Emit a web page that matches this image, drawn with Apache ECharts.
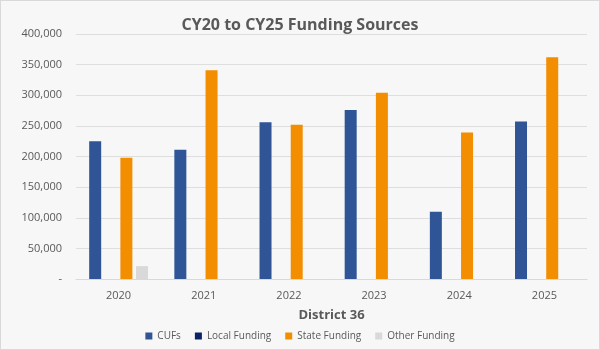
<!DOCTYPE html>
<html><head><meta charset="utf-8">
<script src="https://cdn.jsdelivr.net/npm/echarts@6/dist/echarts.min.js"></script>
<style>
html,body{margin:0;padding:0;background:#fff;}
#c{width:598px;height:348px;border:1px solid #d9d9d9;background:#f7f7f7;}
</style></head><body>
<div id="c"></div>
<script>
var categories = ['2020','2021','2022','2023','2024','2025'];
var cufs = [225000, 211000, 256000, 276000, 110000, 257000];
var localFunding = [0, 0, 0, 0, 0, 0];
var stateFunding = [198000, 341000, 252000, 304000, 239000, 362000];
var otherFunding = [21000, 0, 0, 0, 0, 0];
var seriesNames = ['CUFs','Local Funding','State Funding','Other Funding'];
var colors = ['#2F5597','#0B2466','#F28E00','#D9D9D9'];
var font = '"Open Sans", "Noto Sans", sans-serif';
var chart = echarts.init(document.getElementById('c'));
var data = [cufs, localFunding, stateFunding, otherFunding];
chart.setOption({
  animation:false,
  backgroundColor:'#f7f7f7',
  title:{text:'CY20 to CY25 Funding Sources',left:'center',top:11,
    textStyle:{fontFamily:font,fontSize:16,fontWeight:'bold',color:'#595959'}},
  legend:{bottom:3,left:'center',itemWidth:7,itemHeight:7,itemGap:14,icon:'rect',
    textStyle:{fontFamily:font,fontSize:10,color:'#595959'},data:seriesNames},
  grid:{left:75,right:12,top:33,bottom:70},
  xAxis:{type:'category',data:categories,name:'District 36',nameLocation:'middle',nameGap:30,
    nameTextStyle:{fontFamily:font,fontSize:13,fontWeight:'bold',color:'#595959'},
    axisLine:{lineStyle:{color:'#d9d9d9'}},axisTick:{show:false},
    axisLabel:{fontFamily:font,fontSize:11,color:'#595959',margin:11}},
  yAxis:{type:'value',min:0,max:400000,interval:50000,
    axisLine:{show:false},axisTick:{show:false},
    splitLine:{lineStyle:{color:'#dedede'}},
    axisLabel:{fontFamily:font,fontSize:11,color:'#595959',margin:14,
      formatter:function(v){return v===0?'-':v.toLocaleString('en-US');}}},
  series: seriesNames.map(function(n,i){return {name:n,type:'bar',data:data[i],barWidth:12,barGap:'30%',
    itemStyle:{color:colors[i]}};})
});
</script></body></html>
